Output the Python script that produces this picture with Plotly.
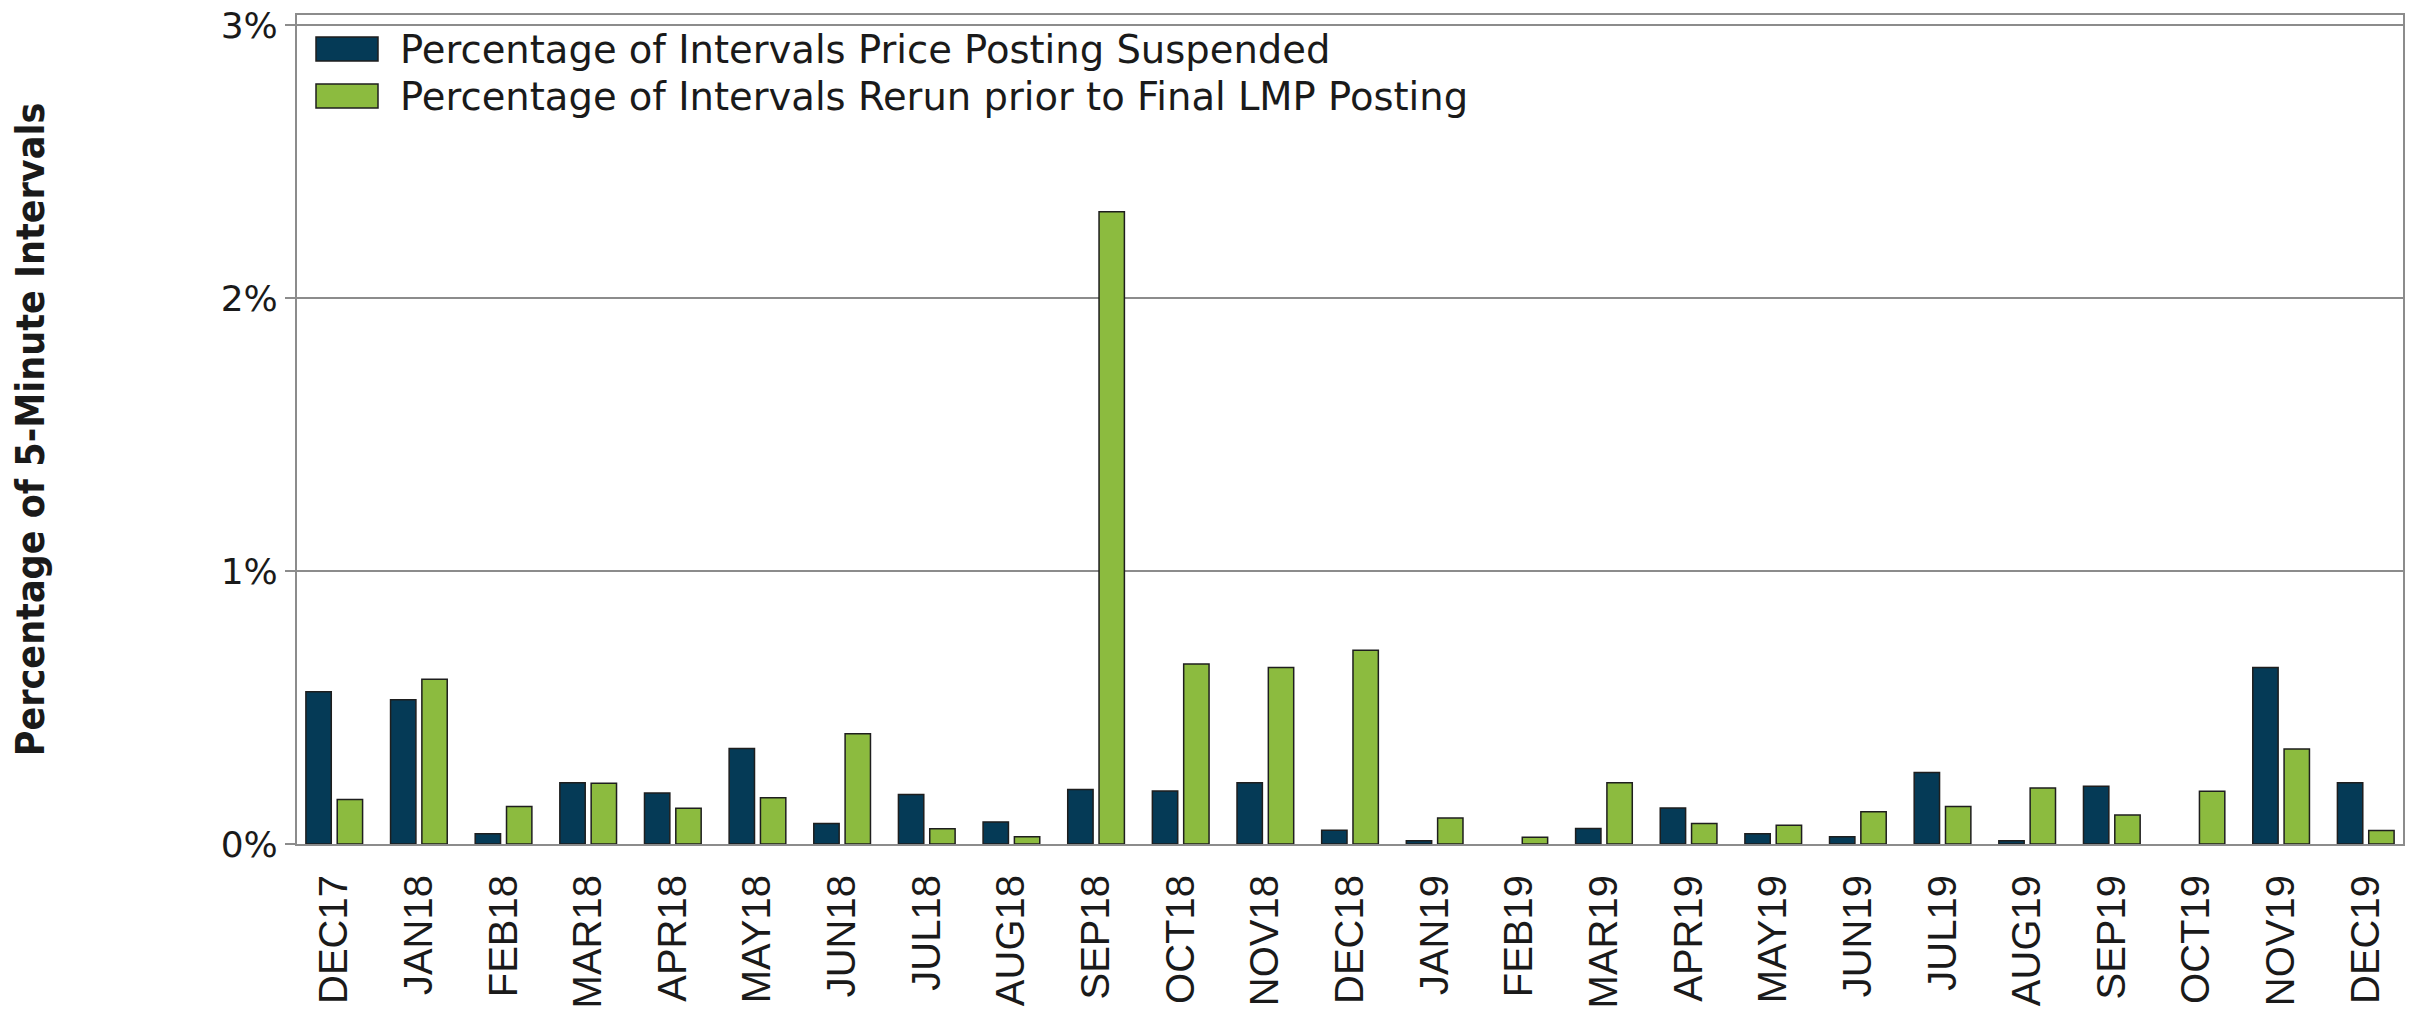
import plotly.graph_objects as go

months = ["DEC17", "JAN18", "FEB18", "MAR18", "APR18", "MAY18", "JUN18", "JUL18",
          "AUG18", "SEP18", "OCT18", "NOV18", "DEC18", "JAN19", "FEB19", "MAR19",
          "APR19", "MAY19", "JUN19", "JUL19", "AUG19", "SEP19", "OCT19", "NOV19", "DEC19"]

# percent of 5-minute intervals (None = no bar drawn)
suspended = [0.558, 0.528, 0.038, 0.224, 0.187, 0.350, 0.075, 0.181,
             0.081, 0.200, 0.194, 0.224, 0.050, 0.012, None, 0.057,
             0.132, 0.038, 0.027, 0.262, 0.012, 0.212, None, 0.647, 0.224]
rerun = [0.163, 0.604, 0.137, 0.223, 0.131, 0.169, 0.404, 0.056,
         0.027, 2.316, 0.659, 0.647, 0.710, 0.095, 0.025, 0.224,
         0.075, 0.069, 0.118, 0.137, 0.205, 0.106, 0.193, 0.348, 0.049]

series_names = ["Percentage of Intervals Price Posting Suspended",
                "Percentage of Intervals Rerun prior to Final LMP Posting"]
series_colors = ["#053a56", "#8cbb3f"]

y_ticks = [0, 1, 2, 3]
y_tick_text = ["0%", "1%", "2%", "3%"]

W, H = 2420, 1010
L, R, T, B = 289, 25, 7, 174   # page body adds 8px offset

fig = go.Figure()

for name, vals, col in zip(series_names, [suspended, rerun], series_colors):
    fig.add_trace(go.Bar(
        x=months, y=vals, name=name,
        marker=dict(color=col, line=dict(color="#1e1e1e", width=1.5)),
        hovertemplate="%{x}: %{y:.2f}%<extra></extra>"
    ))

# ── legend drawn by hand so the swatches keep their wide shape ──
plot_w = W - L - R
plot_h = H - T - B
px_left, px_bottom = L + 8, H - B + 8
rows_y = [49, 96]
for i, (name, col) in enumerate(zip(series_names, series_colors)):
    yc = rows_y[i]
    fig.add_shape(
        type="rect", xref="paper", yref="paper",
        x0=(316 - px_left) / plot_w, x1=(378 - px_left) / plot_w,
        y0=(px_bottom - (yc - 12)) / plot_h, y1=(px_bottom - (yc + 12)) / plot_h,
        fillcolor=col, line=dict(color="#1e1e1e", width=1.5)
    )
    fig.add_annotation(
        xref="paper", yref="paper",
        x=(398 - px_left) / plot_w, y=(px_bottom - yc) / plot_h,
        text=name, showarrow=False, xanchor="left", yanchor="middle",
        font=dict(family="DejaVu Sans", size=38.5, color="#1a1a1a")
    )

fig.update_layout(
    width=W, height=H,
    margin=dict(l=L, r=R, t=T, b=B, autoexpand=False),
    paper_bgcolor="white", plot_bgcolor="white",
    barmode="group", bargap=0.26, bargroupgap=0.19,
    showlegend=False,
    font=dict(family="DejaVu Sans", color="#1a1a1a"),
    xaxis=dict(
        range=[-0.44, 24.44],
        tickangle=-90, tickfont=dict(family="Liberation Sans, Arial", size=40, color="#1a1a1a"),
        showline=True, linecolor="#8c8c8c", linewidth=2, mirror=True,
        ticks="", ticklabelstandoff=13, showgrid=False, automargin=False
    ),
    yaxis=dict(
        range=[0, 3.037], tickmode="array", tickvals=y_ticks, ticktext=y_tick_text,
        tickfont=dict(family="DejaVu Sans", size=36, color="#1a1a1a"),
        ticklabeloverflow="allow",
        showgrid=True, gridcolor="#8c8c8c", gridwidth=1.5,
        showline=True, linecolor="#8c8c8c", linewidth=2, mirror=True,
        ticks="outside", ticklen=10, tickcolor="#8c8c8c", tickwidth=1.5,
        zeroline=False, automargin=False,
        title=dict(
            text="<b>Percentage of 5-Minute Intervals</b>",
            font=dict(family="DejaVu Sans Condensed, Liberation Sans Narrow, DejaVu Sans",
                      size=39, color="#1a1a1a"),
            standoff=174
        )
    )
)

fig.write_html("out.html")
